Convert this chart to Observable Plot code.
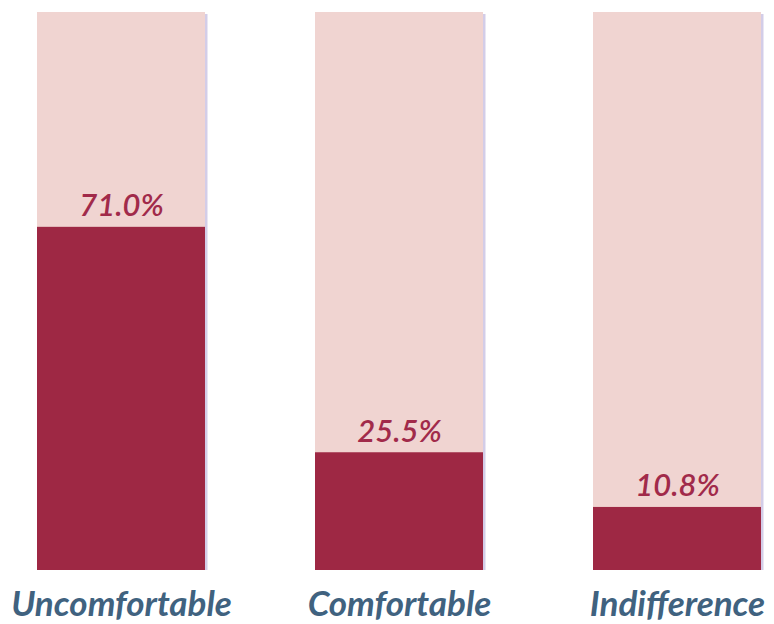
<!DOCTYPE html>
<html>
<head>
<meta charset="utf-8">
<script src="https://cdn.jsdelivr.net/npm/d3@7"></script>
<script src="https://cdn.jsdelivr.net/npm/@observablehq/plot@0.6"></script>
<style>
  html, body { margin: 0; padding: 0; background: #ffffff; }
  #chart { width: 774px; height: 624px; }
</style>
</head>
<body>
<div id="chart"></div>
<script>
const categories = ["Uncomfortable", "Comfortable", "Indifference"];
const shares = [71.0, 25.5, 10.8];          // printed percentages
const barLevels = [61.5, 21.1, 11.3];       // filled height as drawn (percent of full column)
const fullLevel = [100, 100, 100];

const rows = categories.map((c, i) => ({
  category: c,
  share: shares[i],
  level: barLevels[i],
  full: fullLevel[i]
}));

const chart = Plot.plot({
  width: 774,
  height: 624,
  marginTop: 12,
  marginBottom: 54,
  marginLeft: 37,
  marginRight: 13,
  style: { background: "#ffffff", fontFamily: "Lato, 'Open Sans', sans-serif" },
  x: { domain: categories, paddingInner: 0.3957, paddingOuter: 0, axis: null },
  y: { domain: [0, 100], axis: null },
  marks: [
    Plot.barY(rows, { x: "category", y: "full", fill: "#d3cde8", dx: 2.5, insetTop: 2 }),
    Plot.barY(rows, { x: "category", y: "full", fill: "#f0d4d1" }),
    Plot.barY(rows, { x: "category", y: "level", fill: "#9e2844" }),
    Plot.text(rows, {
      x: "category", y: "level",
      text: d => d.share.toFixed(1) + "%",
      dy: -21, lineAnchor: "middle",
      fill: "#a12a4a", fontSize: 31, fontStyle: "italic", fontWeight: 600,
      letterSpacing: "1.6px"
    }),
    Plot.text(rows, {
      x: "category", frameAnchor: "bottom",
      text: "category",
      dy: 34, lineAnchor: "middle",
      fill: "#40627f", fontSize: 35, fontStyle: "italic", fontWeight: "bold",
      letterSpacing: "1.2px"
    })
  ]
});
document.getElementById("chart").appendChild(chart);
</script>
</body>
</html>
